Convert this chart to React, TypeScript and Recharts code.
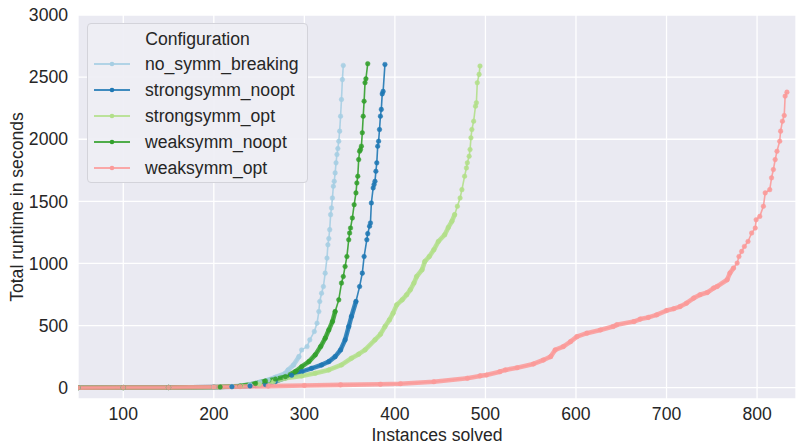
import React from 'react';
import { LineChart, Line, XAxis, YAxis, CartesianGrid, Legend } from 'recharts';

const FONT = '"Liberation Sans", Arial, Helvetica, sans-serif';
const TEXT = '#262626';

const seriesNames = ['no_symm_breaking', 'strongsymm_noopt', 'strongsymm_opt', 'weaksymm_noopt', 'weaksymm_opt'];
const seriesColors = ['#a6cee3', '#1f78b4', '#b2df8a', '#33a02c', '#fb9a99'];

const xTicks = [100, 200, 300, 400, 500, 600, 700, 800];
const yTicks = [0, 500, 1000, 1500, 2000, 2500, 3000];

// [instances solved, total runtime]
const noSymmBreaking: [number, number][] = [
  [50, 0], [100, 1], [150, 2], [200, 5], [220, 10], [240, 26], [251, 46], [260, 62], [268, 84],
  [279, 116], [282, 143], [288, 183], [294, 250], [297, 304], [303, 331], [306, 385], [311, 452],
  [314, 519], [316, 613], [317, 694], [319, 760], [321, 814], [323, 922], [325, 1043], [326, 1150],
  [327, 1200], [328, 1272], [329, 1393], [330, 1447], [331, 1527], [332, 1621], [333, 1661],
  [334, 1729], [335, 1810], [336, 1877], [337, 1925], [338, 1984], [339, 2065], [340, 2185],
  [341, 2320], [342, 2480], [343, 2594],
];

const strongSymmNoopt: [number, number][] = [
  [50, 0], [100, 1], [150, 2], [200, 5], [220, 8], [240, 14], [257, 26], [268, 50], [279, 80],
  [286, 100], [297, 129], [308, 156], [319, 183], [327, 210], [334, 250], [340, 304], [345, 385],
  [349, 492], [352, 573], [357, 694], [361, 814], [364, 922], [366, 1056], [369, 1191], [370, 1240],
  [372, 1300], [373, 1326], [374, 1487], [376, 1608], [377, 1635], [378, 1661], [379, 1742],
  [380, 1810], [381, 1944], [382, 1984], [383, 2078], [384, 2185], [385, 2240], [386, 2365],
  [387, 2385], [389, 2602],
];

const strongSymmOpt: [number, number][] = [
  [50, 0], [100, 1], [150, 2], [200, 5], [230, 14], [250, 28], [266, 50], [279, 76], [297, 94],
  [312, 116], [327, 143], [341, 183], [352, 237], [360, 270], [367, 304], [378, 385], [384, 430],
  [389, 492], [394, 546], [398, 600], [402, 667], [408, 707], [413, 748], [417, 788], [421, 842],
  [424, 895], [430, 949], [433, 1016], [438, 1056], [443, 1110], [448, 1177], [455, 1231],
  [459, 1290], [463, 1340], [466, 1393], [469, 1460], [472, 1527], [474, 1594], [477, 1702],
  [479, 1769], [480, 1810], [482, 1863], [483, 1917], [484, 2011], [485, 2078], [487, 2145],
  [489, 2266], [490, 2294], [491, 2455], [493, 2522], [494, 2589],
];

const weakSymmNoopt: [number, number][] = [
  [50, 0], [100, 1], [150, 2], [207, 6], [229, 14], [246, 34], [257, 54], [268, 70], [279, 89],
  [290, 129], [297, 169], [305, 210], [312, 264], [318, 331], [323, 398], [327, 465], [331, 532],
  [334, 613], [338, 707], [341, 842], [343, 895], [345, 976], [347, 1056], [349, 1191], [350, 1245],
  [351, 1285], [353, 1366], [355, 1473], [357, 1568], [358, 1648], [359, 1702], [360, 1836],
  [361, 1903], [362, 1917], [363, 1944], [364, 2052], [365, 2185], [366, 2306], [367, 2455],
  [368, 2487], [370, 2608],
];

const weakSymmOpt: [number, number][] = [
  [50, 0], [100, 1], [150, 2], [200, 5], [229, 9], [260, 13], [300, 18], [340, 23], [384, 28],
  [406, 32], [443, 48], [480, 76], [494, 95], [501, 102], [516, 129], [522, 143], [535, 161],
  [553, 191], [564, 223], [572, 250], [577, 304], [586, 331], [594, 371], [601, 411], [612, 439],
  [627, 465], [641, 492], [645, 506], [664, 532], [671, 552], [680, 566], [689, 586], [700, 621],
  [708, 636], [715, 653], [722, 680], [730, 721], [737, 748], [745, 766], [752, 802], [756, 815],
  [767, 869], [770, 923], [774, 963], [778, 1003], [780, 1056], [783, 1097], [786, 1137],
  [790, 1177], [794, 1245], [798, 1285], [799, 1352], [803, 1379], [807, 1460], [809, 1568],
  [814, 1594], [816, 1689], [818, 1756], [820, 1836], [822, 1903], [825, 1984], [826, 2065],
  [828, 2145], [830, 2191], [831, 2347], [833, 2379],
];

const seriesData = [noSymmBreaking, strongSymmNoopt, strongSymmOpt, weakSymmNoopt, weakSymmOpt];

// styling: runtime up to which the markers are so dense that they merge into a band
const denseUpTo = [300, 700, 1400, 700, 1000];

const toRows = (pts: [number, number][]) => pts.map(([x, y]) => ({ x, y }));

const W = 796;
const H = 443;
const PLOT_LEFT = 78;
const PLOT_TOP = 15;
const X_AXIS_H = 44;

const LegendBox = () => (
  <div
    style={{
      boxSizing: 'border-box',
      width: 221,
      height: 160,
      background: 'rgba(238,238,244,0.92)',
      border: '1px solid #d3d3da',
      borderRadius: 4,
      fontFamily: FONT,
      fontSize: 17.6,
      color: TEXT,
      position: 'relative',
    }}
  >
    <div style={{ position: 'absolute', top: 4, left: 0, width: '100%', textAlign: 'center', lineHeight: '22px' }}>
      Configuration
    </div>
    {seriesNames.map((name, i) => (
      <div key={name} style={{ position: 'absolute', left: 0, top: 29 + i * 25.9, height: 22, width: '100%' }}>
        <svg width={40} height={22} style={{ position: 'absolute', left: 6, top: 0 }}>
          <line x1={0} y1={11} x2={36} y2={11} stroke={seriesColors[i]} strokeWidth={2} strokeOpacity={0.85} />
          <circle cx={18} cy={11} r={2.3} fill={seriesColors[i]} />
        </svg>
        <span style={{ position: 'absolute', left: 57, top: 0, lineHeight: '22px', whiteSpace: 'nowrap' }}>{name}</span>
      </div>
    ))}
  </div>
);

const XLabel = (props: any) => {
  const vb = props.viewBox || {};
  const cx = vb.x != null && vb.width != null ? vb.x + vb.width / 2 : 437;
  return (
    <text x={cx} y={440.5} textAnchor="middle" fill={TEXT} fontSize={17.6} fontFamily={FONT}>
      Instances solved
    </text>
  );
};

const YLabel = (props: any) => {
  const vb = props.viewBox || {};
  const cy = vb.y != null && vb.height != null ? vb.y + vb.height / 2 : 207;
  const x = 23;
  return (
    <text x={x} y={cy} transform={`rotate(-90 ${x} ${cy})`} textAnchor="middle" fill={TEXT} fontSize={17.6} fontFamily={FONT}>
      Total runtime in seconds
    </text>
  );
};

export default function App() {
  const lines: React.ReactNode[] = [];
  seriesData.forEach((pts, i) => {
    const dense = pts.filter(([, y]) => y <= denseUpTo[i]);
    lines.push(
      <Line
        key={seriesNames[i] + '-band'}
        name={seriesNames[i] + ' band'}
        legendType="none"
        data={toRows(dense)}
        dataKey="y"
        type="linear"
        stroke={seriesColors[i]}
        strokeWidth={4.6}
        strokeOpacity={0.85}
        strokeLinecap="round"
        strokeLinejoin="round"
        dot={false}
        activeDot={false}
        isAnimationActive={false}
      />
    );
    lines.push(
      <Line
        key={seriesNames[i]}
        name={seriesNames[i]}
        data={toRows(pts)}
        dataKey="y"
        type="linear"
        stroke={seriesColors[i]}
        strokeWidth={1.6}
        strokeOpacity={0.9}
        dot={{ r: 2.3, fill: seriesColors[i], stroke: seriesColors[i], strokeWidth: 0.5, fillOpacity: 0.9 }}
        activeDot={false}
        isAnimationActive={false}
      />
    );
  });

  return (
    <div style={{ position: 'absolute', left: 0, top: 0, width: W, height: H, background: '#ffffff' }}>
      <LineChart width={W} height={H} margin={{ top: PLOT_TOP, right: 0, bottom: 0, left: 0 }}>
        <CartesianGrid fill="#EAEAF2" stroke="#ffffff" strokeWidth={1.3} />
        <XAxis
          type="number"
          dataKey="x"
          domain={[50, 843]}
          ticks={xTicks}
          allowDataOverflow
          axisLine={false}
          tickLine={false}
          tickSize={0}
          tickMargin={9}
          height={X_AXIS_H}
          tick={{ fill: TEXT, fontSize: 17.6, fontFamily: FONT }}
          label={<XLabel />}
        />
        <YAxis
          type="number"
          domain={[-91, 3000]}
          ticks={yTicks}
          allowDataOverflow
          axisLine={false}
          tickLine={false}
          tickSize={0}
          tickMargin={10}
          width={PLOT_LEFT}
          tick={{ fill: TEXT, fontSize: 17.6, fontFamily: FONT }}
          label={<YLabel />}
        />
        <Legend
          layout="vertical"
          align="center"
          verticalAlign="middle"
          content={() => <LegendBox />}
          wrapperStyle={{ left: 87, top: 23, width: 221, height: 160 }}
        />
        {lines}
      </LineChart>
    </div>
  );
}
